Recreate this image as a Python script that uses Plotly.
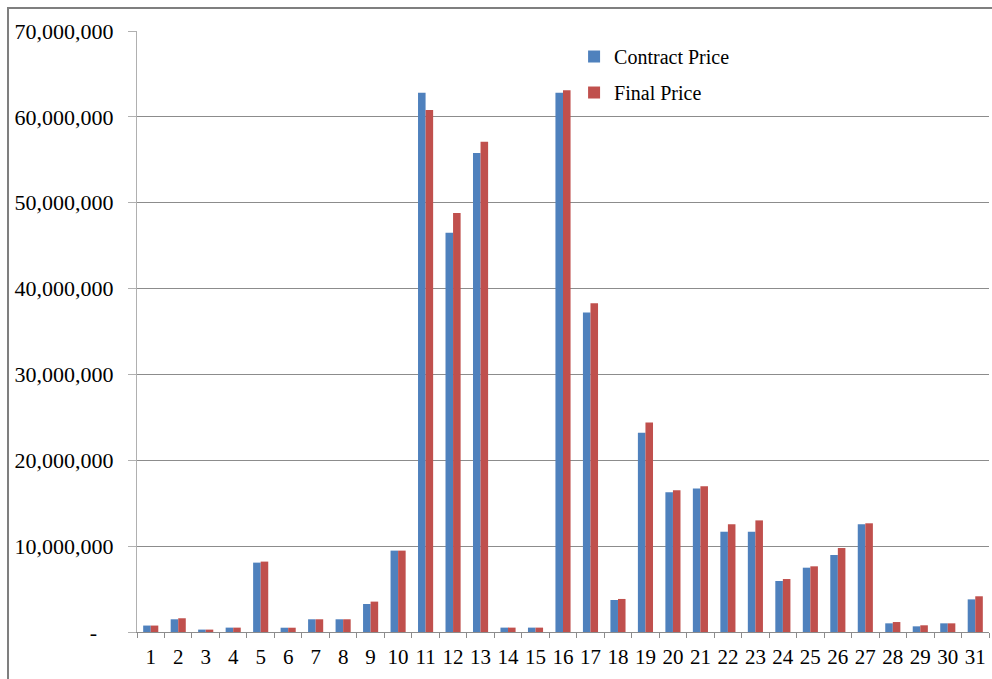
import plotly.graph_objects as go

# Project numbers and the two price series
projects = [str(i) for i in range(1, 32)]
contract_price = [
    750000, 1480000, 280000, 510000, 8080000, 500000, 1480000, 1480000, 3260000, 9480000,
    62800000, 46500000, 55800000, 510000, 510000, 62800000, 37200000, 3730000, 23200000, 16270000,
    16700000, 11680000, 11680000, 5940000, 7490000, 8970000, 12540000, 1010000, 660000, 1010000,
    3800000,
]
final_price = [
    750000, 1600000, 280000, 510000, 8200000, 500000, 1480000, 1480000, 3540000, 9480000,
    60800000, 48800000, 57100000, 510000, 510000, 63100000, 38300000, 3850000, 24400000, 16500000,
    16970000, 12540000, 13000000, 6170000, 7650000, 9780000, 12660000, 1160000, 780000, 1010000,
    4160000,
]

y_tick_values = [0, 10000000, 20000000, 30000000, 40000000, 50000000, 60000000, 70000000]
y_tick_labels = ["-\u00a0\u00a0\u00a0", "10,000,000", "20,000,000", "30,000,000",
                 "40,000,000", "50,000,000", "60,000,000", "70,000,000"]

BLUE = "#4F81BD"
RED = "#C0504D"
FONT = "Liberation Serif, Times New Roman, serif"

fig = go.Figure()
fig.add_trace(go.Bar(x=projects, y=contract_price, name="Contract Price",
                     marker=dict(color=BLUE, line=dict(width=0)), legendgroup="a"))
fig.add_trace(go.Bar(x=projects, y=final_price, name="Final Price",
                     marker=dict(color=RED, line=dict(width=0)), legendgroup="b"))

fig.update_layout(
    width=992, height=679,
    margin=dict(l=137, r=3, t=31, b=47),
    paper_bgcolor="white", plot_bgcolor="white",
    barmode="group", bargap=0.45, bargroupgap=0,
    font=dict(family=FONT, size=21, color="black"),
    showlegend=True,
    legend=dict(x=0.513, y=0.99, xanchor="left", yanchor="top",
                font=dict(family=FONT, size=20, color="black"),
                bgcolor="rgba(0,0,0,0)", tracegroupgap=7,
                itemsizing="constant"),
    xaxis=dict(
        type="category", showgrid=False,
        showline=True, linecolor="#8c8c8c", linewidth=1,
        ticks="outside", tickson="boundaries", ticklen=5, tickcolor="#8c8c8c",
        tickangle=0, ticklabelstandoff=6,
        tickfont=dict(family=FONT, size=21, color="black"),
    ),
    yaxis=dict(
        range=[0, 70000000],
        tickvals=y_tick_values, ticktext=y_tick_labels,
        showgrid=True, gridcolor="#8c8c8c", gridwidth=1,
        showline=True, linecolor="#b0b0b0", linewidth=1,
        ticks="outside", ticklen=8, tickcolor="#b0b0b0",
        ticklabelstandoff=10,
        tickfont=dict(family=FONT, size=22, color="black"),
        zeroline=False,
    ),
    shapes=[dict(type="rect", xref="paper", yref="paper",
                 x0=-0.1514, x1=1.2, y0=-0.3, y1=1.0383,
                 line=dict(color="#7f7f7f", width=2), fillcolor="rgba(0,0,0,0)",
                 layer="below")],
)

fig.write_html("out.html")
